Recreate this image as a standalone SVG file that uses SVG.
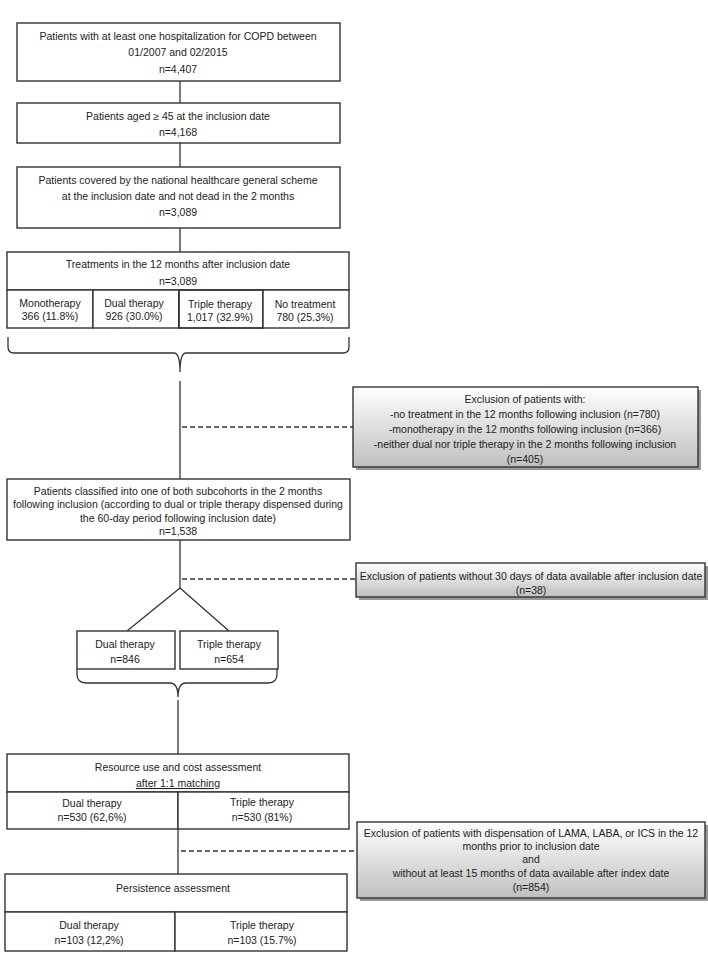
<svg xmlns="http://www.w3.org/2000/svg" width="708" height="971" viewBox="0 0 708 971">
<defs>
<linearGradient id="gr" x1="0" y1="0" x2="0" y2="1">
<stop offset="0" stop-color="#ffffff"/>
<stop offset="1" stop-color="#bfbfbf"/>
</linearGradient>
<style>
rect.b{fill:#fff;stroke:#333;stroke-width:1.4}
rect.e{fill:url(#gr);stroke:#333;stroke-width:1.4}
rect.s{fill:#555;opacity:0.6}
text{font-family:"Liberation Sans",Arial,sans-serif;font-size:10.5px;fill:#222;text-anchor:middle}
.c line,.c path{stroke:#333;stroke-width:1.3;fill:none}
.c .d{stroke-dasharray:5,3}
</style>
</defs>
<rect width="708" height="971" fill="#fff"/>
<g class="c" id="connectors">
<line x1="180" y1="81" x2="180" y2="103"/>
<line x1="180" y1="143" x2="180" y2="167"/>
<line x1="180" y1="228" x2="180" y2="252"/>
<path d="M8,337 V347 Q8,353 14,353 H174 Q180,353 180,372 Q180,353 186,353 H343 Q349,353 349,347 V337"/>
<line x1="180" y1="381" x2="180" y2="479"/>
<line class="d" x1="182" y1="427" x2="353" y2="427"/>
<line x1="180" y1="540" x2="180" y2="588"/>
<line class="d" x1="182" y1="579" x2="356" y2="579"/>
<line x1="180" y1="588" x2="127" y2="631"/>
<line x1="180" y1="588" x2="229" y2="631"/>
<path d="M77,669 V674 Q77,683 86,683 H170 Q178,683 178,697 Q178,683 186,683 H268 Q277,683 277,674 V669"/>
<line x1="178" y1="700" x2="178" y2="754"/>
<line x1="178" y1="829" x2="178" y2="874"/>
<line class="d" x1="181" y1="851" x2="357" y2="851"/>
</g>
<g id="n1">
<rect class="b" x="17" y="23" width="323" height="58"/>
<text x="178" y="40">Patients with at least one hospitalization for COPD between</text>
<text x="178" y="56">01/2007 and 02/2015</text>
<text x="178" y="73">n=4,407</text>
</g>
<g id="n2">
<rect class="b" x="17" y="103" width="323" height="40"/>
<text x="178" y="120">Patients aged ≥ 45 at the inclusion date</text>
<text x="178" y="136">n=4,168</text>
</g>
<g id="n3">
<rect class="b" x="17" y="167" width="323" height="61"/>
<text x="178" y="184">Patients covered by the national healthcare general scheme</text>
<text x="178" y="200">at the inclusion date and not dead in the 2 months</text>
<text x="178" y="216">n=3,089</text>
</g>
<g id="n4">
<rect class="b" x="7" y="252" width="342" height="38"/>
<text x="178" y="268">Treatments in the 12 months after inclusion date</text>
<text x="178" y="285">n=3,089</text>
<rect class="b" x="7" y="290" width="86" height="38"/>
<rect class="b" x="93" y="290" width="86" height="38"/>
<rect class="b" x="179" y="290" width="84" height="38" style="stroke-width:1.8"/>
<rect class="b" x="263" y="290" width="86" height="38"/>
<text x="50" y="307">Monotherapy</text>
<text x="50" y="320">366 (11.8%)</text>
<text x="134" y="307">Dual therapy</text>
<text x="134" y="320">926 (30.0%)</text>
<text x="220" y="308">Triple therapy</text>
<text x="220" y="321">1,017 (32.9%)</text>
<text x="305" y="308">No treatment</text>
<text x="305" y="321">780 (25.3%)</text>
</g>
<g id="x1">
<rect class="s" x="356" y="390" width="345" height="80"/>
<rect class="e" x="353" y="387" width="345" height="80"/>
<text x="525" y="403">Exclusion of patients with:</text>
<text x="525" y="418">-no treatment in the 12 months following inclusion (n=780)</text>
<text x="525" y="433">-monotherapy in the 12 months following inclusion (n=366)</text>
<text x="525" y="448">-neither dual nor triple therapy in the 2 months following inclusion</text>
<text x="525" y="463">(n=405)</text>
</g>
<g id="n5">
<rect class="b" x="7" y="479" width="343" height="61"/>
<text x="178" y="495">Patients classified into one of both subcohorts in the 2 months</text>
<text x="178" y="508">following inclusion (according to dual or triple therapy dispensed during</text>
<text x="178" y="522">the 60-day period following inclusion date)</text>
<text x="178" y="535">n=1,538</text>
</g>
<g id="x2">
<rect class="s" x="359" y="566" width="349" height="34"/>
<rect class="e" x="356" y="563" width="349" height="34"/>
<text x="531" y="580">Exclusion of patients without 30 days of data available after inclusion date</text>
<text x="531" y="594">(n=38)</text>
</g>
<g id="n6">
<rect class="b" x="77" y="631" width="98" height="38"/>
<text x="125" y="648">Dual therapy</text>
<text x="125" y="663">n=846</text>
</g>
<g id="n7">
<rect class="b" x="180" y="631" width="98" height="38"/>
<text x="229" y="648">Triple therapy</text>
<text x="229" y="663">n=654</text>
</g>
<g id="n8">
<rect class="b" x="7" y="754" width="342" height="38"/>
<text x="178" y="771">Resource use and cost assessment</text>
<text x="178" y="787" text-decoration="underline">after 1:1 matching</text>
<rect class="b" x="7" y="792" width="171" height="37"/>
<rect class="b" x="178" y="792" width="171" height="37"/>
<text x="92" y="807">Dual therapy</text>
<text x="92" y="821">n=530 (62,6%)</text>
<text x="262" y="806">Triple therapy</text>
<text x="262" y="821">n=530 (81%)</text>
</g>
<g id="x3">
<rect class="s" x="360" y="825" width="348" height="76"/>
<rect class="e" x="357" y="822" width="348" height="76"/>
<text x="531" y="837">Exclusion of patients with dispensation of LAMA, LABA, or ICS in the 12</text>
<text x="531" y="850">months prior to inclusion date</text>
<text x="531" y="863">and</text>
<text x="531" y="877">without at least 15 months of data available after index date</text>
<text x="531" y="891">(n=854)</text>
</g>
<g id="n9">
<rect class="b" x="5" y="874" width="342" height="38"/>
<text x="173" y="892">Persistence assessment</text>
<rect class="b" x="5" y="912" width="170" height="39"/>
<rect class="b" x="175" y="912" width="172" height="39"/>
<text x="89" y="929">Dual therapy</text>
<text x="89" y="944">n=103 (12,2%)</text>
<text x="262" y="929">Triple therapy</text>
<text x="262" y="944">n=103 (15.7%)</text>
</g>
</svg>
